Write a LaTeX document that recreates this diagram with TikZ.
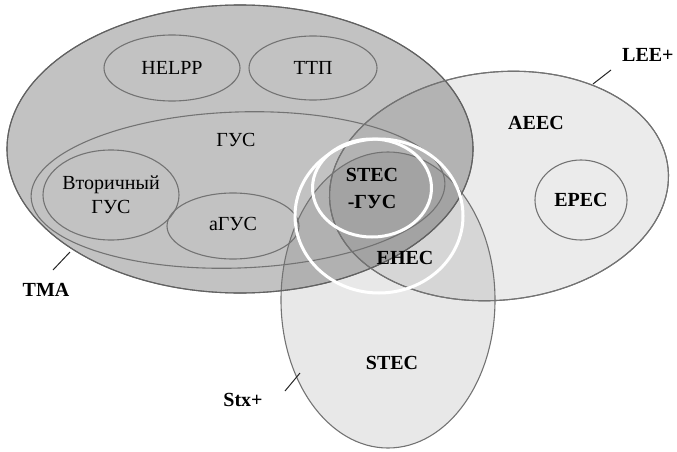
\documentclass[tikz,border=0pt]{standalone}
\usepackage{fontspec}
\setmainfont{Liberation Serif}
\usetikzlibrary{shapes.geometric}
\tikzset{
  venn/.style={ellipse, inner sep=0pt, outer sep=0pt, draw=black!55, line width=1.1pt},
  bigset/.style={venn, fill=black, fill opacity=#1, draw opacity=1},
  subset/.style={venn},
  whitering/.style={ellipse, inner sep=0pt, outer sep=0pt, draw=white, line width=3pt},
  lbl/.style={font=\fontsize{20}{24}\selectfont, text=black, inner sep=0pt, align=center},
  blbl/.style={lbl, font=\fontsize{20}{27}\selectfont\bfseries},
  tick/.style={draw=black!85, line width=1pt}
}
\begin{document}
\begin{tikzpicture}[x=1pt,y=-1pt]
\useasboundingbox (0,0) rectangle (677,452);
% big sets
\node[bigset=0.24, minimum width=466pt, minimum height=288pt] (tma) at (240,149) {};
\node[bigset=0.08, minimum width=340pt, minimum height=228pt, rotate=6] (lee) at (499,186) {};
\node[bigset=0.09, minimum width=214pt, minimum height=296pt] (stx) at (388,300) {};
% redraw outlines on top
\node[venn, draw=black!62, minimum width=466pt, minimum height=288pt] at (tma.center) {};
\node[venn, minimum width=340pt, minimum height=228pt, rotate=6] at (lee.center) {};
% subsets
\node[subset, minimum width=136pt, minimum height=66pt] (helpp) at (172,68) {};
\node[subset, minimum width=128pt, minimum height=64pt] (ttp) at (313,68) {};
\node[subset, minimum width=414pt, minimum height=156pt, rotate=2] (gus) at (238,190) {};
\node[subset, minimum width=136pt, minimum height=90pt] (vgus) at (111,195) {};
\node[subset, minimum width=132pt, minimum height=66pt] (agus) at (233,226) {};
\node[subset, minimum width=92pt, minimum height=80pt] (epec) at (581,200) {};
% white rings
\node[whitering, minimum width=168pt, minimum height=154pt] (ehec) at (379,216) {};
\node[whitering, minimum width=119pt, minimum height=98pt] (stecgus) at (372,188) {};
% labels
\node[lbl] (tHELPP) at (helpp.center) {HELPP};
\node[lbl] (tTTP) at (ttp.center) {ТТП};
\node[lbl] (tGUS) at (236,140) {ГУС};
\node[lbl] (tVGUS) at (111,195) {Вторичный\\ГУС};
\node[lbl] (tAGUS) at (233,224) {аГУС};
\node[blbl] (tSTECGUS) at (372,188) {STEC\\-ГУС};
\node[blbl] (tEHEC) at (405,258) {EHEC};
\node[blbl] (tAEEC) at (536,123) {AEEC};
\node[blbl] (tEPEC) at (epec.center) {EPEC};
\node[blbl] (tSTEC) at (392,363) {STEC};
\node[blbl, anchor=west] (tLEE) at (622,55) {LEE+};
\node[blbl] (tTMA) at (46,290) {TMA};
\node[blbl] (tStx) at (243,400) {Stx+};
% ticks
\coordinate (kLEEa) at (611,70);
\coordinate (kLEEb) at (593,84);
\coordinate (kTMAa) at (70,252);
\coordinate (kTMAb) at (53,270);
\coordinate (kStxa) at (300,373);
\coordinate (kStxb) at (285,391);
\draw[tick] (kLEEa) -- (kLEEb);
\draw[tick] (kTMAa) -- (kTMAb);
\draw[tick] (kStxa) -- (kStxb);
\end{tikzpicture}
\end{document}
